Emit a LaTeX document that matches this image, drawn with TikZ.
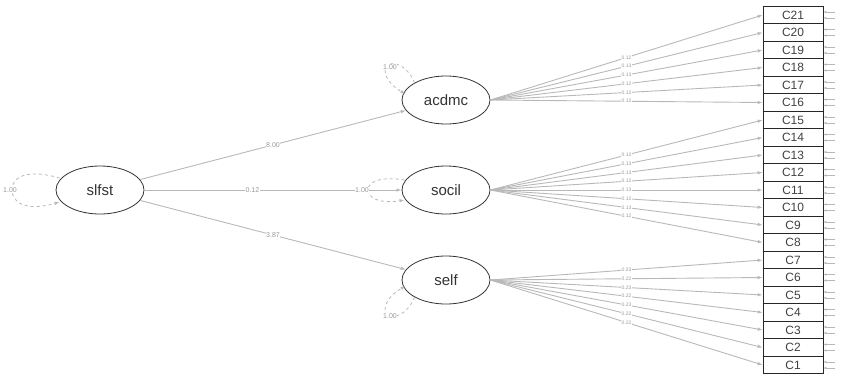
\documentclass[tikz,border=0pt]{standalone}
\usepackage{fontspec}
\setmainfont{Liberation Sans}
\usetikzlibrary{arrows.meta,shapes.geometric,calc}
\definecolor{pathgray}{gray}{0.72}
\definecolor{labgray}{gray}{0.6}
\begin{document}
\begin{tikzpicture}[x=1pt,y=-1pt,
  latent/.style={draw=black!80,ellipse,line width=0.8pt,minimum width=88pt,minimum height=48pt,inner sep=0pt,font=\fontsize{15}{15}\selectfont,text=black!80},
  manifest/.style={draw=black!85,rectangle,minimum width=60pt,minimum height=17.5pt,inner sep=0pt,font=\fontsize{12}{12}\selectfont,text=black!75,line width=0.6pt},
  pth/.style={draw=pathgray,line width=0.9pt,-{Latex[length=5pt,width=3.5pt]}},
  vloop/.style={draw=pathgray,dashed,line width=0.8pt,-{Latex[length=5pt,width=3.5pt]}},
  elab/.style={font=\fontsize{7}{7}\selectfont,text=labgray,fill=white,inner sep=0.5pt},
  tlab/.style={font=\fontsize{5}{5}\selectfont,text=labgray,fill=white,inner sep=0.3pt},
  res/.style={draw=pathgray,line width=0.6pt,-{Latex[length=3pt,width=2.5pt]}}]
\useasboundingbox (0,0) rectangle (846,378);

% latent nodes
\node[latent] (slfst) at (100,190) {slfst};
\node[latent] (acdmc) at (446,100) {acdmc};
\node[latent] (socil) at (446,190) {socil};
\node[latent] (self)  at (446,280) {self};

% manifest boxes
\foreach \i in {1,...,21}{
  \node[manifest] (C\i) at (793,{15+17.5*(21-\i)}) {C\i};
}

% structural paths
\draw[pth] (slfst) -- node[elab,pos=0.5] {8.00} (acdmc);
\draw[pth] (slfst) -- node[elab,pos=0.42] {0.12} (socil);
\draw[pth] (slfst) -- node[elab,pos=0.5] {3.87} (self);

% loadings
\foreach \i/\l in {21/0.12,20/0.13,19/0.13,18/0.12,17/0.12,16/0.12}{
  \draw[pth] (acdmc.east) -- node[tlab,pos=0.5] {\l} (C\i.west);
}
\foreach \i/\l in {15/0.12,14/0.13,13/0.13,12/0.12,11/0.13,10/0.12,9/0.13,8/0.12}{
  \draw[pth] (socil.east) -- node[tlab,pos=0.5] {\l} (C\i.west);
}
\foreach \i/\l in {7/0.23,6/0.22,5/0.23,4/0.22,3/0.23,2/0.22,1/0.22}{
  \draw[pth] (self.east) -- node[tlab,pos=0.5] {\l} (C\i.west);
}

% residual marks on the right
\foreach \i in {1,...,21}{
  \draw[res] ($(C\i.east)+(12,-3)$) -- ($(C\i.east)+(0,-3)$);
  \draw[res] ($(C\i.east)+(12,3)$) -- ($(C\i.east)+(0,3)$);
}

% variance loops
\draw[vloop] ($(slfst.west)+(4,-12)$) .. controls (25,168) and (12,178) .. (12,190)
  .. controls (12,202) and (25,212) .. ($(slfst.west)+(4,12)$);
\node[elab] (vs) at (10,190) {1.00};

\draw[vloop] (acdmc.north west) .. controls (405,60) and (385,60) .. (385,70)
  .. controls (385,80) and (395,88) .. ($(acdmc.west)+(4,-6)$);
\node[elab] (va) at (390,67) {1.00};

\draw[vloop] ($(socil.west)+(3,-10)$) .. controls (380,176) and (368,182) .. (368,190)
  .. controls (368,198) and (380,204) .. ($(socil.west)+(3,10)$);
\node[elab] (vso) at (362,190) {1.00};

\draw[vloop] (self.south west) .. controls (405,320) and (385,320) .. (385,310)
  .. controls (385,300) and (395,292) .. ($(self.west)+(4,6)$);
\node[elab] (vse) at (390,316) {1.00};
\end{tikzpicture}
\end{document}
